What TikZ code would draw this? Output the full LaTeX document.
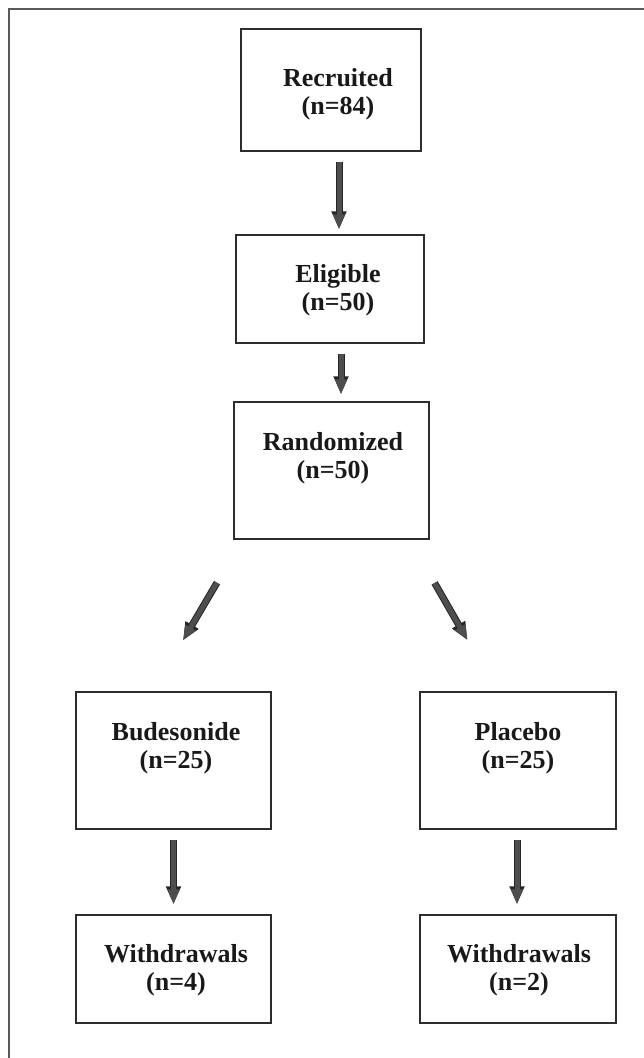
\documentclass[tikz,border=0pt]{standalone}
\usepackage{fontspec}
\setmainfont{Liberation Serif}
\usetikzlibrary{arrows.meta}
\definecolor{arrowfill}{RGB}{78,78,78}
\definecolor{boxline}{RGB}{45,45,45}
\definecolor{frameline}{RGB}{90,90,90}
\tikzset{
  box/.style={draw=boxline, line width=1.3pt, inner sep=0pt},
  boxtext/.style={anchor=north, align=center, inner sep=0pt,
    font=\fontsize{26}{28.5}\selectfont\bfseries, text=black!90},
  bigarrow/.style={line width=5pt, draw=arrowfill,
    -{Triangle[width=11pt,length=15pt]},
    preaction={draw=black!85, line width=7pt, -{Triangle[width=14pt,length=18pt]}}}
}
\begin{document}
\begin{tikzpicture}[x=1pt,y=-1pt]
\useasboundingbox (0,0) rectangle (643,1058);
\draw[frameline, line width=1.6pt] (9,1070) -- (9,9) -- (660,9);
% boxes (centre x, centre y, width, height)
\node[box, minimum width=180pt, minimum height=122pt] (rec) at (331,90) {};
\node[box, minimum width=188pt, minimum height=108pt] (eli) at (330,289) {};
\node[box, minimum width=195pt, minimum height=137pt] (rand) at (331.5,470.5) {};
\node[box, minimum width=195pt, minimum height=137pt] (bud) at (173.5,760.5) {};
\node[box, minimum width=196pt, minimum height=137pt] (plac) at (518,760.5) {};
\node[box, minimum width=195pt, minimum height=108pt] (wd1) at (173.5,969) {};
\node[box, minimum width=196pt, minimum height=108pt] (wd2) at (518,969) {};
% texts
\node[boxtext] (trec) at (338,68) {Recruited\\(n=84)};
\node[boxtext] (teli) at (338,264) {Eligible\\(n=50)};
\node[boxtext] (trand) at (333,432) {Randomized\\(n=50)};
\node[boxtext] (tbud) at (176,722) {Budesonide\\(n=25)};
\node[boxtext] (tplac) at (518,722) {Placebo\\(n=25)};
\node[boxtext] (twd1) at (176,944) {Withdrawals\\(n=4)};
\node[boxtext] (twd2) at (519,944) {Withdrawals\\(n=2)};
% arrows
\draw[bigarrow, shorten <=10pt, shorten >=5pt] ([xshift=8pt]rec.south) -- ([xshift=9pt]eli.north);
\draw[bigarrow, shorten <=10pt, shorten >=7pt] ([xshift=11pt]eli.south) -- ([xshift=9.5pt]rand.north);
\draw[bigarrow, shorten <=50pt, shorten >=59pt] ([xshift=9pt]rand.south west) -- ([xshift=-20.5pt]bud.north);
\draw[bigarrow, shorten <=50pt, shorten >=59pt] ([xshift=-20pt]rand.south east) -- ([xshift=-21pt]plac.north);
\draw[bigarrow, shorten <=10pt, shorten >=10pt] (bud.south) -- (wd1.north);
\draw[bigarrow, shorten <=10pt, shorten >=10pt] ([xshift=-1pt]plac.south) -- ([xshift=-1pt]wd2.north);
\end{tikzpicture}
\end{document}
